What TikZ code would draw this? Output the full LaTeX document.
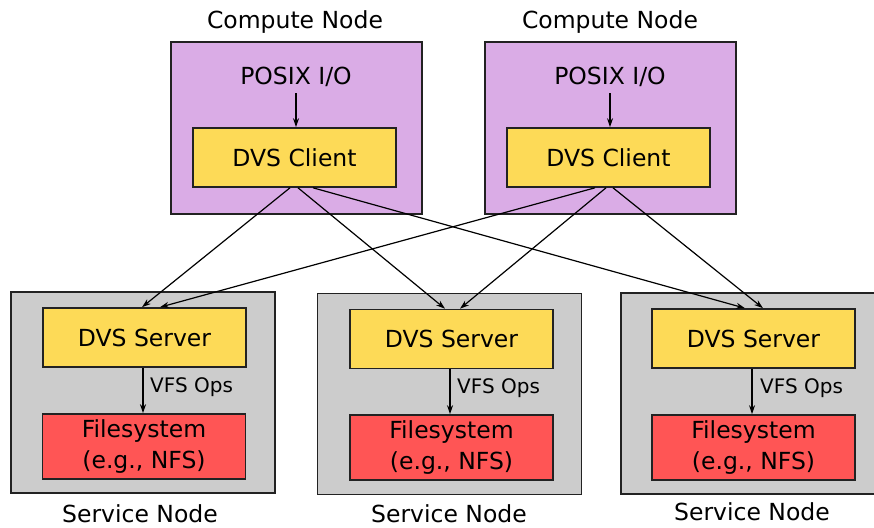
\documentclass[tikz,border=0pt]{standalone}
\usepackage{fontspec}
\setmainfont{DejaVu Sans}
\usetikzlibrary{arrows.meta}
\definecolor{cpurple}{HTML}{DAACE6}
\definecolor{cyellow}{HTML}{FDDA57}
\definecolor{cred}{HTML}{FF5555}
\definecolor{cgray}{HTML}{CCCCCC}
\definecolor{cborder}{HTML}{222222}
\tikzset{
  outerbox/.style={draw=cborder, line width=1.6pt, inner sep=0pt},
  computebox/.style={outerbox, fill=cpurple, minimum width=251pt, minimum height=172pt},
  servicebox/.style={outerbox, fill=cgray, minimum width=264pt, minimum height=201pt},
  innerbox/.style={draw=cborder, line width=1.6pt, inner sep=0pt, minimum width=203pt, font=\fontsize{23.5}{26}\selectfont, align=center},
  clientbox/.style={innerbox, fill=cyellow, minimum height=59pt},
  fsbox/.style={innerbox, fill=cred, minimum height=65pt, font=\fontsize{23.5}{30.5}\selectfont},
  bigtext/.style={inner sep=0pt, font=\fontsize{23.5}{26}\selectfont},
  smalltext/.style={inner sep=0pt, font=\fontsize{20}{24}\selectfont, anchor=west},
  arr/.style={-{Stealth[length=9pt,width=6pt]}, line width=1.2pt, black}
}
\begin{document}
\begin{tikzpicture}[x=1pt,y=-1pt]
\useasboundingbox (0,0) rectangle (874,527);
\begin{scope}
\clip (0,0) rectangle (874,527);
% compute nodes
\node[computebox] (c1) at (296.5,128) {};
\node[computebox] (c2) at (610.5,128) {};
\node[bigtext] (lc1) at (295,22) {Compute Node};
\node[bigtext] (lc2) at (610,22) {Compute Node};
\node[bigtext] (p1) at (296,77) {POSIX I/O};
\node[bigtext] (p2) at (610,77) {POSIX I/O};
\node[clientbox] (cl1) at (294.5,157.5) {DVS Client};
\node[clientbox] (cl2) at (608.5,157.5) {DVS Client};
% service nodes
\node[servicebox] (s1) at (143,392.5) {};
\node[servicebox] (s2) at (449.5,394) {};
\node[servicebox] (s3) at (753,393.5) {};
\node[bigtext] (ls1) at (140,514) {Service Node};
\node[bigtext] (ls2) at (449,514) {Service Node};
\node[bigtext] (ls3) at (752,512) {Service Node};
\node[clientbox] (sv1) at (144.5,337.5) {DVS Server};
\node[clientbox] (sv2) at (451.5,339) {DVS Server};
\node[clientbox] (sv3) at (753.5,338.5) {DVS Server};
\node[fsbox] (f1) at (144,446.5) {Filesystem\\(e.g., NFS)};
\node[fsbox] (f2) at (451.5,447.5) {Filesystem\\(e.g., NFS)};
\node[fsbox] (f3) at (753.5,447.5) {Filesystem\\(e.g., NFS)};
\node[smalltext] (v1) at (150,387) {VFS Ops};
\node[smalltext] (v2) at (457,388) {VFS Ops};
\node[smalltext] (v3) at (760,388) {VFS Ops};
% local arrows
\draw[arr] ([yshift=-6pt]p1.south) -- (p1.south |- cl1.north);
\draw[arr] ([yshift=-6pt]p2.south) -- (p2.south |- cl2.north);
\draw[arr] ([xshift=-1.5pt]sv1.south) -- ([xshift=-1.5pt]sv1.south |- f1.north);
\draw[arr] ([xshift=-1.5pt]sv2.south) -- ([xshift=-1.5pt]sv2.south |- f2.north);
\draw[arr] ([xshift=-1.5pt]sv3.south) -- ([xshift=-1.5pt]sv3.south |- f3.north);
% client to server arrows
\draw[arr] ([xshift=-4.5pt]cl1.south) -- ([xshift=-2.5pt]sv1.north);
\draw[arr] ([xshift=3.5pt]cl1.south) -- ([xshift=-6.5pt]sv2.north);
\draw[arr] ([xshift=18.5pt]cl1.south) -- ([xshift=-8.5pt]sv3.north);
\draw[arr] ([xshift=-13.5pt]cl2.south) -- ([xshift=15.5pt]sv1.north);
\draw[arr] ([xshift=-2.5pt]cl2.south) -- ([xshift=8.5pt]sv2.north);
\draw[arr] ([xshift=4.5pt]cl2.south) -- ([xshift=9.5pt]sv3.north);
\end{scope}
\end{tikzpicture}
\end{document}
